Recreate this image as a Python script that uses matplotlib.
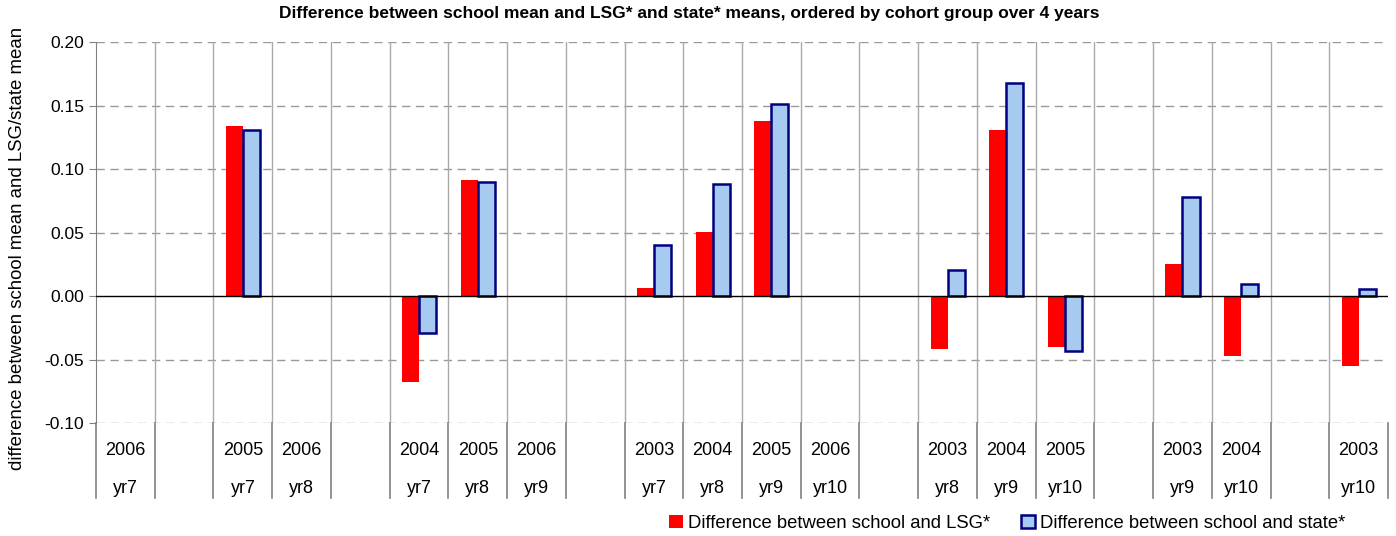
import numpy as np
import matplotlib
matplotlib.use("Agg")
import matplotlib.pyplot as plt
import matplotlib.transforms as mtransforms
from matplotlib.patches import Patch

plt.rcParams['font.family']=['Liberation Sans','DejaVu Sans']

# category slots (blank slots separate the cohort groups)
years=["2006","","2005","2006","","2004","2005","2006","","2003","2004","2005","2006","",
       "2003","2004","2005","","2003","2004","","2003"]
levels=["yr7","","yr7","yr8","","yr7","yr8","yr9","","yr7","yr8","yr9","yr10","",
        "yr8","yr9","yr10","","yr9","yr10","","yr10"]
diff_lsg=[None,None,0.134,None,None,-0.068,0.091,None,None,0.0065,0.0505,0.138,None,None,
          -0.042,0.131,-0.040,None,0.025,-0.047,None,-0.055]
diff_state=[None,None,0.131,None,None,-0.029,0.090,None,None,0.0405,0.0885,0.151,None,None,
            0.0205,0.168,-0.043,None,0.078,0.0095,None,0.0055]

n=len(years)
x=np.arange(n)
lsg=np.array([np.nan if v is None else v for v in diff_lsg])
state=np.array([np.nan if v is None else v for v in diff_state])

fig=plt.figure(figsize=(13.96,5.36),dpi=100)
ax=fig.add_axes([0.0688,0.2108,0.9255,0.7108])

w=0.29
ax.bar(x-w/2,lsg,w,color="#ff0000",edgecolor="none",zorder=3)
ax.bar(x+w/2,state,w,color="#a6caf0",edgecolor="#000080",linewidth=1.8,zorder=3)

ax.set_xlim(-0.5,n-0.5)
ax.set_ylim(-0.10,0.20)
ax.set_yticks(np.arange(-0.10,0.201,0.05))
ax.yaxis.set_major_formatter(matplotlib.ticker.FormatStrFormatter("%.2f"))
ax.tick_params(axis="y",labelsize=12.5,length=5,color="#808080",direction="out")
ax.set_xticks([])

for s in ["top","right","bottom"]:
    ax.spines[s].set_visible(False)
ax.spines["left"].set_color("#808080")

# dashed horizontal gridlines
for yv in [-0.10,-0.05,0.05,0.10,0.15,0.20]:
    ax.axhline(yv,color="#999999",linestyle=(0,(6,4)),linewidth=1,zorder=1)
ax.axhline(0,color="black",linewidth=1,zorder=4)

# vertical separators
for b in np.arange(0.5,n-0.5,1):
    ax.axvline(b,color="#aaaaaa",linewidth=1,zorder=1)

trans=mtransforms.blended_transform_factory(ax.transData,ax.transAxes)
for b in np.arange(-0.5,n,1):
    ax.plot([b,b],[0,-0.197],transform=trans,color="#808080",linewidth=1.2,clip_on=False)
for i in range(n):
    ax.text(x[i],-0.072,years[i],transform=trans,ha="center",va="center",fontsize=13)
    ax.text(x[i],-0.172,levels[i],transform=trans,ha="center",va="center",fontsize=13)

ax.set_ylabel("difference between school mean and LSG/state mean",fontsize=13.4)
ax.yaxis.set_label_coords(-0.0545,0.457)
fig.text(0.494,0.974,"Difference between school mean and LSG* and state* means, ordered by cohort group over 4 years",
         ha="center",va="center",fontsize=12.5,fontweight="bold")

handles=[Patch(facecolor="#ff0000",edgecolor="none"),
         Patch(facecolor="#a6caf0",edgecolor="#000080",linewidth=1.8)]
fig.legend(handles,["Difference between school and LSG*","Difference between school and state*"],
           loc="center",bbox_to_anchor=(0.7215,0.024),ncol=2,frameon=False,fontsize=13.3,
           handlelength=0.75,handleheight=0.75,handletextpad=0.3,columnspacing=1.65)

fig.savefig("out.png",dpi=100)
